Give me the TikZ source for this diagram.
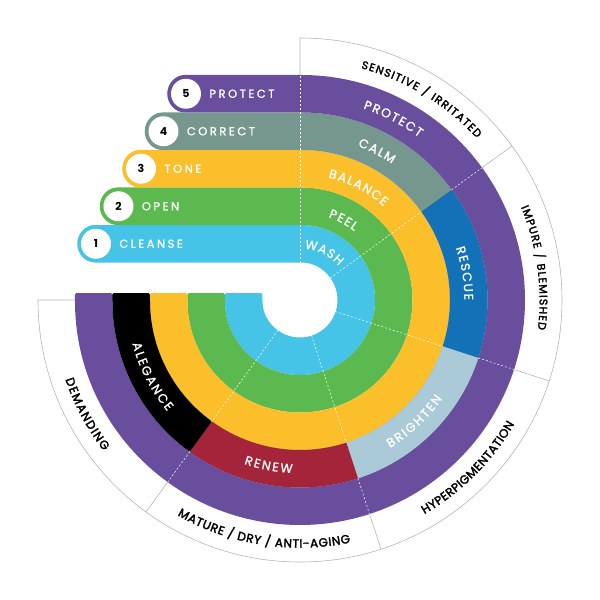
\documentclass[tikz,border=0pt]{standalone}
\usepackage{fontspec}
\setmainfont{Poppins}
\newfontfamily\bandfont[LetterSpace=22, FakeBold=1.2]{Poppins}
\newfontfamily\arcfont[FakeBold=1.2]{Poppins}
\newfontfamily\rimfont[FakeBold=2.4]{Poppins}
\usetikzlibrary{decorations.text,positioning}

\definecolor{washblue}{HTML}{45C4E8}
\definecolor{peelgreen}{HTML}{5BB950}
\definecolor{toneyellow}{HTML}{FBBF2B}
\definecolor{calmgrey}{HTML}{76978D}
\definecolor{protectpurple}{HTML}{6A4E9E}
\definecolor{rescueblue}{HTML}{1271B7}
\definecolor{brightenblue}{HTML}{AACAD7}
\definecolor{renewred}{HTML}{A4253A}
\definecolor{rimgrey}{HTML}{B5B5B5}

\tikzset{
  badge/.style={circle, fill=white, minimum size=30pt, inner sep=0pt, font=\bfseries\fontsize{11}{11}\selectfont},
  steplabel/.style={inner sep=0pt, text=white, font=\bandfont\fontsize{11.5}{11.5}\selectfont},
  divider/.style={white, dash pattern=on 2pt off 2pt, line width=0.5pt},
  rim/.style={rimgrey, line width=0.6pt},
  bandtext/.style={decorate, decoration={text along path, text align=center, text color=white, raise=-4.4pt,
    text={|\arcfont\fontsize{12.5}{12.5}\selectfont\kern1.7pt|#1}}},
  rimtext/.style n args={3}{decorate, decoration={text along path, text align=center, text color=black, raise=-0.35*#1pt,
    text={|\rimfont\fontsize{#1}{#1}\selectfont\kern#2pt|#3}}},
}

\begin{document}
\begin{tikzpicture}[x=1pt,y=1pt]
\useasboundingbox (-300,-300) rectangle (300,300);

% rings with their flat arms to the left
\foreach \k/\col/\xc in {1/washblue/-204, 2/peelgreen/-181.5, 3/toneyellow/-159, 4/calmgrey/-136.5, 5/protectpurple/-114}{
  \pgfmathsetmacro\rin{37.5*\k}
  \pgfmathsetmacro\rout{37.5*\k+37.5}
  \fill[\col, rounded corners=1.5pt] (-\rout,7) -- (-\rout,0) arc[start angle=180, end angle=450, radius=\rout]
    -- (\xc,\rout) arc[start angle=90, end angle=270, radius=18.75]
    -- (0,\rin) arc[start angle=90, end angle=-180, radius=\rin] -- (-\rin,7) -- cycle;
}

% fourth ring pieces
\foreach \a/\b/\col in {36/-18/rescueblue, -18/-72/brightenblue, -72/-126/renewred}{
  \fill[\col] (\a:150) -- (\a:187.5) arc[start angle=\a, end angle=\b, radius=187.5]
    -- (\b:150) arc[start angle=\b, end angle=\a, radius=150] -- cycle;
}
\fill[black, rounded corners=1.5pt] (-187.5,7) -- (-187.5,0) arc[start angle=180, end angle=234, radius=187.5]
  -- (234:150) arc[start angle=234, end angle=180, radius=150] -- (-150,7) -- cycle;

% dashed dividers
\draw[divider] (0,37.5) -- (0,225);
\foreach \a in {36,-18,-72,-126}{
  \draw[divider] (\a:37.5) -- (\a:150);
  \draw[divider] (\a:187.5) -- (\a:225);
}

% outer rim
\draw[rim] (0,225) -- (0,262) arc[start angle=90, end angle=-180, radius=262] -- (-225,0);
\foreach \a in {36,-18,-72,-126}
  \draw[rim] (\a:225) -- (\a:262);

% band texts
\path[bandtext=WASH] (94:56) arc[start angle=94, end angle=34, radius=56];
\path[bandtext=PEEL] (92:92) arc[start angle=92, end angle=32, radius=92];
\path[bandtext=BALANCE] (93:130) arc[start angle=93, end angle=33, radius=130];
\path[bandtext=CALM] (93:168.75) arc[start angle=93, end angle=33, radius=168.75];
\path[bandtext=PROTECT] (93:206) arc[start angle=93, end angle=33, radius=206];
\path[bandtext=RESCUE] (39.5:168.75) arc[start angle=39.5, end angle=-20.5, radius=168.75];
\path[bandtext=BRIGHTEN] (-77:168.75) arc[start angle=-77, end angle=-17, radius=168.75];
\path[bandtext=RENEW] (-131:168.75) arc[start angle=-131, end angle=-71, radius=168.75];
\path[bandtext=ALEGANCE] (-183:168.75) arc[start angle=-183, end angle=-123, radius=168.75];

% rim texts
\path[rimtext={11}{1.3}{SENSITIVE / IRRITATED}] (94:243.5) arc[start angle=94, end angle=24, radius=243.5];
\path[rimtext={11}{1.2}{IMPURE / BLEMISHED}] (43:243.5) arc[start angle=43, end angle=-27, radius=243.5];
\path[rimtext={12}{0.3}{HYPERPIGMENTATION}] (-80:243.5) arc[start angle=-80, end angle=-10, radius=243.5];
\path[rimtext={12}{0.5}{MATURE / DRY / ANTI-AGING}] (-134:243.5) arc[start angle=-134, end angle=-64, radius=243.5];
\path[rimtext={12}{1.2}{DEMANDING}] (-187:243.5) arc[start angle=-187, end angle=-117, radius=243.5];

% step badges
\node[badge] (b1) at (-204,56.25) {1};
\node[badge] (b2) at (-181.5,93.75) {2};
\node[badge] (b3) at (-159,131.25) {3};
\node[badge] (b4) at (-136.5,168.75) {4};
\node[badge] (b5) at (-114,206.25) {5};
\node[steplabel, right=8pt of b1] (l1) {CLEANSE};
\node[steplabel, right=8pt of b2] (l2) {OPEN};
\node[steplabel, right=8pt of b3] (l3) {TONE};
\node[steplabel, right=8pt of b4] (l4) {CORRECT};
\node[steplabel, right=8pt of b5] (l5) {PROTECT};

\end{tikzpicture}
\end{document}
